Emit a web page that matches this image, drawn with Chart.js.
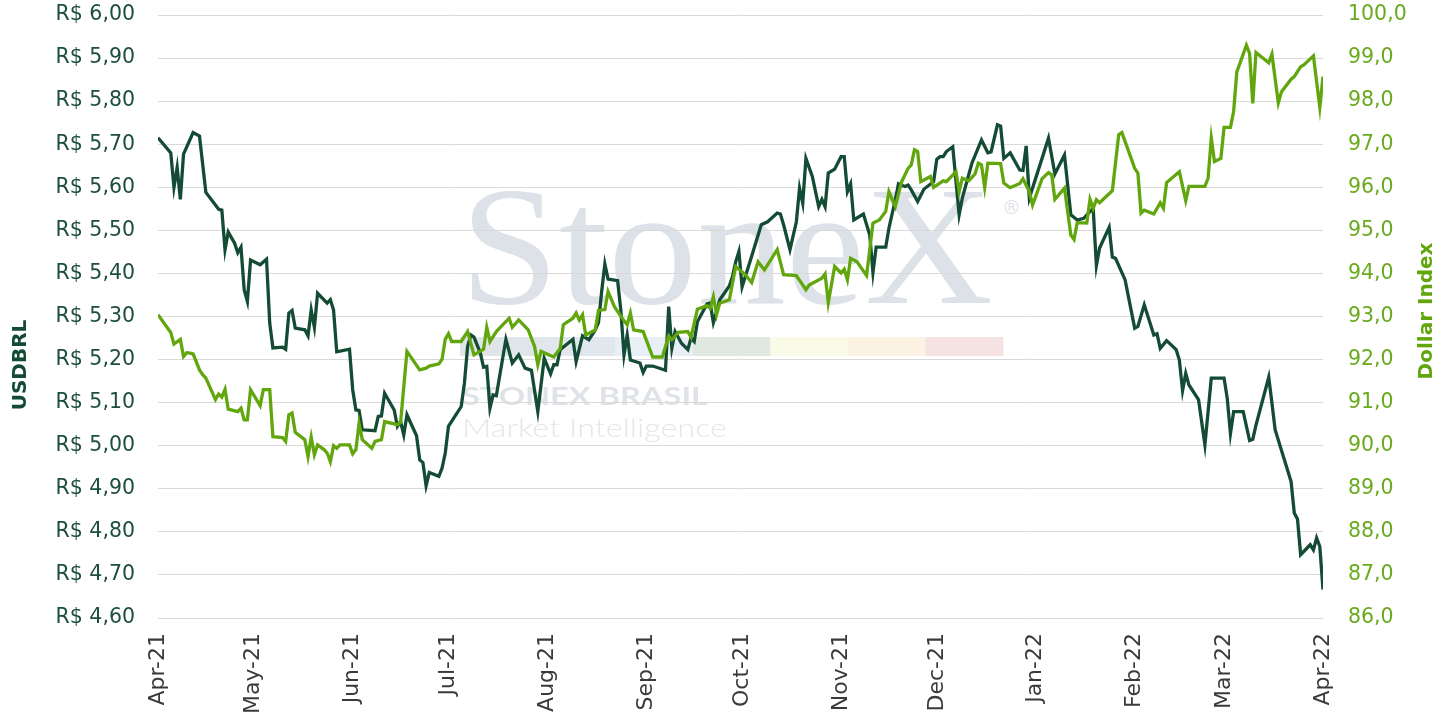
<!DOCTYPE html>
<html><head><meta charset="utf-8">
<script src="https://cdn.jsdelivr.net/npm/chart.js@4"></script>
<style>html,body{margin:0;padding:0;background:#fff;}#wrap{width:1452px;height:719px;position:relative;}</style>
</head><body><div id="wrap"><canvas id="c"></canvas></div>
<script>
// x values: calendar days since 2021-04-01
const monthTickDays = [0,30,61,91,122,153,183,214,244,275,306,334,365];
const monthLabels = ['Apr-21','May-21','Jun-21','Jul-21','Aug-21','Sep-21','Oct-21','Nov-21','Dec-21','Jan-22','Feb-22','Mar-22','Apr-22'];

const usdbrlDays = [
  0,4,5,6,7,8,11,13,15,18,19,20,21,22,24,25,26,27,28,29,
  32,34,35,36,39,40,41,42,43,46,47,48,49,50,53,54,55,56,60,
  61,62,63,64,68,69,70,71,74,75,76,77,78,81,82,83,84,85,88,89,90,
  91,95,96,97,98,99,101,102,103,104,105,106,109,111,113,115,117,119,121,
  123,124,125,126,130,131,133,135,137,138,139,140,141,144,145,146,147,148,151,152,
  153,155,159,160,161,162,164,166,167,168,169,172,173,174,175,176,179,180,181,182,
  183,186,189,191,194,195,196,198,200,201,202,203,205,207,208,209,210,212,
  214,215,216,217,218,221,223,224,225,228,229,231,232,234,235,236,238,240,243,
  244,245,246,247,249,251,252,253,255,258,260,261,263,264,265,267,270,271,272,273,
  279,281,284,286,288,290,293,294,295,298,299,300,303,
  306,307,309,312,313,314,316,319,320,321,322,323,326,328,330,
  334,335,336,337,340,342,343,344,348,349,350,355,356,357,358,361,362,363,364,365
];
const usdbrlValues = [
  5.715,5.680,5.600,5.646,5.572,5.677,5.727,5.719,5.588,5.559,5.549,5.547,5.455,5.496,5.470,5.448,5.461,5.362,5.335,5.431,
  5.420,5.433,5.285,5.227,5.229,5.224,5.308,5.314,5.273,5.269,5.255,5.315,5.275,5.354,5.331,5.339,5.315,5.218,5.224,
  5.130,5.083,5.082,5.037,5.035,5.068,5.069,5.122,5.083,5.045,5.056,5.025,5.072,5.023,4.967,4.961,4.907,4.938,4.929,4.948,4.983,
  5.045,5.091,5.145,5.230,5.257,5.252,5.215,5.182,5.184,5.087,5.118,5.116,5.247,5.192,5.211,5.180,5.175,5.079,5.203,
  5.167,5.188,5.188,5.223,5.247,5.195,5.255,5.246,5.269,5.286,5.358,5.422,5.387,5.383,5.315,5.211,5.257,5.199,5.192,5.170,
  5.185,5.185,5.175,5.323,5.227,5.265,5.238,5.223,5.250,5.242,5.288,5.329,5.331,5.286,5.311,5.339,5.371,5.393,5.427,5.451,
  5.369,5.440,5.513,5.520,5.540,5.538,5.513,5.455,5.520,5.598,5.563,5.667,5.625,5.555,5.572,5.555,5.633,5.642,
  5.671,5.671,5.590,5.608,5.524,5.538,5.489,5.402,5.461,5.461,5.505,5.571,5.608,5.602,5.605,5.594,5.567,5.596,5.613,
  5.665,5.671,5.671,5.683,5.694,5.536,5.575,5.602,5.656,5.710,5.680,5.682,5.745,5.742,5.667,5.680,5.640,5.639,5.696,5.575,
  5.714,5.631,5.675,5.536,5.524,5.528,5.551,5.418,5.459,5.507,5.438,5.435,5.385,
  5.273,5.277,5.327,5.257,5.260,5.226,5.244,5.223,5.199,5.128,5.168,5.141,5.107,5.002,5.157,
  5.157,5.110,5.028,5.079,5.079,5.012,5.015,5.048,5.159,5.099,5.037,4.917,4.844,4.830,4.747,4.770,4.758,4.786,4.766,4.666
];

const dollarDays = [
  0,4,5,7,8,9,10,11,13,14,15,18,19,20,21,22,25,26,27,28,29,
  32,33,35,36,39,40,41,42,43,46,47,48,49,50,52,53,54,55,56,57,60,
  61,62,63,64,67,68,70,71,75,76,78,82,84,85,88,89,90,
  91,92,95,97,99,102,103,104,106,110,111,113,116,118,119,120,
  124,126,127,130,131,132,133,134,137,138,140,141,143,146,147,148,149,152,
  155,158,160,161,163,166,167,169,172,173,174,175,176,179,181,
  184,186,188,190,194,196,200,203,204,208,209,210,212,
  214,215,216,217,219,222,224,226,228,229,231,233,235,236,237,238,239,242,243,
  246,247,250,251,252,254,256,257,258,259,260,264,265,267,270,271,273,274,
  277,279,280,281,284,286,287,288,291,292,293,294,295,299,301,302,
  306,307,308,309,312,314,315,316,320,322,323,328,329,330,331,333,
  334,336,337,338,341,342,343,344,348,349,351,352,355,356,358,359,362,364,365
];
const dollarValues = [
  93.04,92.63,92.36,92.47,92.07,92.16,92.15,92.13,91.76,91.65,91.57,91.07,91.20,91.13,91.31,90.85,90.79,90.87,90.60,90.60,91.30,
  90.93,91.30,91.30,90.21,90.19,90.10,90.72,90.76,90.31,90.14,89.75,90.20,89.79,90.02,89.91,89.83,89.63,90.00,89.94,90.02,90.02,
  89.81,89.91,90.52,90.14,89.94,90.10,90.14,90.56,90.49,90.54,92.19,91.76,91.80,91.85,91.90,92.01,92.47,
  92.60,92.42,92.42,92.65,92.11,92.24,92.75,92.42,92.65,92.96,92.75,92.92,92.69,92.30,91.88,92.19,
  92.06,92.26,92.81,92.96,93.08,92.92,93.04,92.57,92.69,93.14,93.16,93.58,93.23,92.90,92.81,93.08,92.69,92.65,
  92.06,92.06,92.55,92.46,92.63,92.65,92.52,93.17,93.25,93.19,93.46,93.04,93.31,93.39,94.16,
  93.97,93.79,94.27,94.08,94.55,93.97,93.95,93.62,93.73,93.89,93.99,93.32,94.16,
  94.01,94.10,93.85,94.35,94.27,93.95,95.17,95.24,95.44,95.90,95.55,96.13,96.44,96.52,96.87,96.83,96.13,96.25,96.00,
  96.15,96.13,96.36,95.90,96.21,96.15,96.31,96.56,96.52,96.00,96.56,96.55,96.10,95.99,96.09,96.20,95.90,95.59,
  96.20,96.34,96.29,95.72,95.98,94.89,94.79,95.18,95.17,95.72,95.51,95.71,95.64,95.92,97.22,97.27,
  96.44,96.33,95.40,95.47,95.38,95.64,95.51,96.11,96.36,95.69,96.02,96.02,96.21,97.14,96.60,96.67,
  97.39,97.39,97.76,98.68,99.30,99.11,97.95,99.13,98.89,99.09,97.96,98.22,98.51,98.57,98.80,98.84,99.05,97.86,98.57
];

const usdbrlTicks = [4.6,4.7,4.8,4.9,5.0,5.1,5.2,5.3,5.4,5.5,5.6,5.7,5.8,5.9,6.0];
const dollarTicks = [86,87,88,89,90,91,92,93,94,95,96,97,98,99,100];

const DARK = '#134b34';
const LIGHT = '#62a60e';
const FONT = '"DejaVu Sans", sans-serif';
const WFONT = 'Lato, "Open Sans", sans-serif';

const watermark = {
  id: 'watermark',
  beforeDraw(chart) {
    const ctx = chart.ctx;
    ctx.save();
    ctx.font = '170px "Liberation Serif", "DejaVu Serif", serif';
    ctx.fillStyle = '#dde2e8';
    ctx.textBaseline = 'alphabetic';
    ctx.textAlign = 'left';
    let w = ctx.measureText('StoneX').width;
    ctx.save();
    ctx.translate(460, 303);
    ctx.scale(533 / w, 1);
    ctx.fillText('StoneX', 0, 0);
    ctx.restore();
    ctx.font = '19px "DejaVu Sans", sans-serif';
    ctx.fillText('®', 1002, 214);
    const cols = ['#e0e5ea','#e2e7ed','#e9eff6','#dfe9e1','#fafae9','#fdf3e4','#f5e3e3'];
    const x0 = 460, segW = (1003 - 460) / cols.length;
    cols.forEach((c, i) => { ctx.fillStyle = c; ctx.fillRect(x0 + i * segW, 337, segW + 0.5, 19); });
    ctx.fillStyle = '#dfe3e8';
    ctx.font = 'bold 25px ' + WFONT;
    w = ctx.measureText('STONEX BRASIL').width;
    ctx.save(); ctx.translate(462, 405); ctx.scale(246 / w, 1); ctx.fillText('STONEX BRASIL', 0, 0); ctx.restore();
    ctx.fillStyle = '#e3e6ea';
    ctx.font = '300 25px ' + WFONT;
    w = ctx.measureText('Market Intelligence').width;
    ctx.save(); ctx.translate(462, 437); ctx.scale(265 / w, 1); ctx.fillText('Market Intelligence', 0, 0); ctx.restore();
    ctx.restore();
  },
  afterDraw(chart) {
    const ctx = chart.ctx;
    ctx.save();
    ctx.textAlign = 'center';
    ctx.textBaseline = 'middle';
    ctx.font = 'bold 20px ' + FONT;
    ctx.fillStyle = DARK;
    ctx.translate(21, 365); ctx.rotate(-Math.PI / 2); ctx.fillText('USDBRL', 0, 0);
    ctx.restore();
    ctx.save();
    ctx.textAlign = 'center';
    ctx.textBaseline = 'middle';
    ctx.font = 'bold 20px ' + FONT;
    ctx.fillStyle = LIGHT;
    ctx.translate(1427, 311); ctx.rotate(-Math.PI / 2); ctx.fillText('Dollar Index', 0, 0);
    ctx.restore();
  }
};

function noVPad(s) { s.paddingTop = 0; s.paddingBottom = 0; }

new Chart(document.getElementById('c'), {
  type: 'line',
  data: {
    datasets: [
      {
        label: 'Dollar Index',
        data: dollarDays.map((d, i) => ({ x: d, y: dollarValues[i] })),
        yAxisID: 'yR',
        borderColor: LIGHT,
        borderWidth: 3.3,
        pointRadius: 0,
        tension: 0,
        order: 0
      },
      {
        label: 'USDBRL',
        data: usdbrlDays.map((d, i) => ({ x: d, y: usdbrlValues[i] })),
        yAxisID: 'yL',
        borderColor: DARK,
        borderWidth: 3.3,
        pointRadius: 0,
        tension: 0,
        order: 1
      }
    ]
  },
  options: {
    responsive: true,
    maintainAspectRatio: false,
    animation: false,
    layout: { padding: { top: 15, right: 0, bottom: 0, left: 0 } },
    plugins: { legend: { display: false }, tooltip: { enabled: false } },
    scales: {
      x: {
        type: 'linear',
        min: 0, max: 365,
        afterBuildTicks(s) { s.ticks = monthTickDays.map(v => ({ value: v })); },
        afterFit(s) { s.height = 101; s.paddingLeft = 0; s.paddingRight = 0; },
        grid: { display: false, drawTicks: false },
        border: { display: false },
        ticks: {
          autoSkip: false, minRotation: 90, maxRotation: 90, padding: 15,
          color: '#3a3a3a', font: { family: FONT, size: 22 },
          callback: (v, i) => monthLabels[i]
        }
      },
      yL: {
        position: 'left',
        min: 4.6, max: 6.0,
        afterBuildTicks(s) { s.ticks = usdbrlTicks.map(v => ({ value: v })); },
        afterFit(s) { s.width = 158; noVPad(s); },
        grid: { color: '#d9d9d9', lineWidth: 1, drawTicks: false },
        border: { display: false },
        ticks: {
          padding: 23, color: '#1d4f3b', font: { family: FONT, size: 20.5 },
          callback: v => 'R$ ' + Number(v).toFixed(2).replace('.', ',')
        }
      },
      yR: {
        position: 'right',
        min: 86, max: 100,
        afterBuildTicks(s) { s.ticks = dollarTicks.map(v => ({ value: v })); },
        afterFit(s) { s.width = 129; noVPad(s); },
        grid: { display: false, drawTicks: false },
        border: { display: false },
        ticks: {
          padding: 25, color: '#6aaa1e', font: { family: FONT, size: 20.5 },
          callback: v => Number(v).toFixed(1).replace('.', ',')
        }
      }
    }
  },
  plugins: [watermark]
});
</script></body></html>
